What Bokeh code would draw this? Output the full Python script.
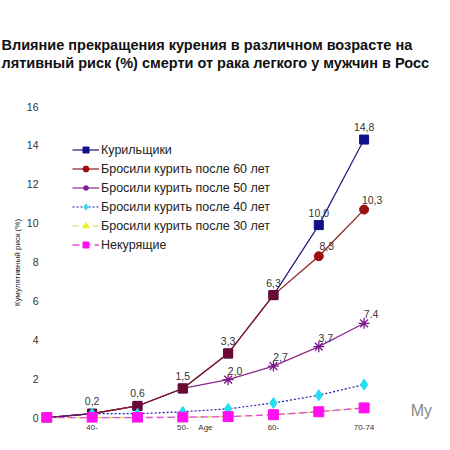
from bokeh.plotting import figure
from bokeh.models import (ColumnDataSource, Legend, LegendItem, Label, Range1d,
                          FixedTicker, CDSView, BooleanFilter)
from bokeh.core.properties import value
from bokeh.embed import file_html
from bokeh.resources import INLINE

# ---- data ----
x_labels = ["", "40-", "", "50-", "", "60-", "", "70-74"]
x_title = "Age"
x_title_pos = 3.5
smokers = [0, 0.2, 0.6, 1.5, 3.3, 6.3, 9.9, 14.3]
quit60 = [0, 0.2, 0.6, 1.5, 3.3, 6.3, 8.3, 10.7]
quit50 = [0, 0.2, 0.6, 1.5, 1.95, 2.65, 3.65, 4.85]
quit40 = [0, 0.2, 0.2, 0.3, 0.45, 0.75, 1.15, 1.7]
quit30 = [0, 0, 0, 0.02, 0.05, 0.15, 0.3, 0.5]
nonsmokers = [0, 0, 0, 0.02, 0.05, 0.15, 0.3, 0.5]
smokers_text = ["", "0,2", "0,6", "1,5", "3,3", "6,3", "10,0", "14,8"]
quit60_text = ["", "", "", "", "", "", "8,3", "10,3"]
quit50_text = ["", "", "", "", "2,0", "2,7", "3,7", "7.4"]
series_names = ["Курильщики", "Бросили курить после 60 лет", "Бросили курить после 50 лет",
                "Бросили курить после 40 лет", "Бросили курить после 30 лет", "Некурящие"]
title1 = "Влияние прекращения курения в различном возрасте на"
title2 = "лятивный риск (%) смерти от рака легкого у мужчин в  Росс"
y_title = "Кумулятивный риск  (%)"
y_ticks = [0, 2, 4, 6, 8, 10, 12, 14, 16]
watermark = "My"

xs = list(range(len(x_labels)))
FONT = "Liberation Sans"

p = figure(width=434, height=434, output_backend="svg", toolbar_location=None,
           x_range=Range1d(-0.139, 8.553), y_range=Range1d(-0.252, 16.31),
           min_border_left=40, min_border_right=0, min_border_top=100, min_border_bottom=12,
           background_fill_color="white", border_fill_color="white")
p.outline_line_color = None
p.grid.visible = False

# title (two lines)
p.title.text = title1 + "\n" + title2
p.title.align = "left"
p.title.offset = -39
p.title.standoff = 58
p.title.text_font = FONT
p.title.text_font_size = "14.5px"
p.title.text_font_style = "bold"
p.title.text_color = "#111111"
p.title.text_line_height = 1.13

ticks_x = [i for i, t in enumerate(x_labels) if t] + [x_title_pos]
labels_x = {i: t for i, t in enumerate(x_labels) if t}
labels_x[x_title_pos] = x_title
p.xaxis.ticker = FixedTicker(ticks=ticks_x)
p.xaxis.major_label_overrides = labels_x
p.yaxis.ticker = FixedTicker(ticks=y_ticks)
for ax in (p.xaxis[0], p.yaxis[0]):
    ax.axis_line_color = None
    ax.major_tick_line_color = None
    ax.minor_tick_line_color = None
    ax.major_tick_out = 0
    ax.major_tick_in = 0
    ax.major_label_text_font = FONT
    ax.major_label_text_color = "#333333"
p.xaxis.major_label_text_font_size = "8px"
p.xaxis.major_label_standoff = 0
p.yaxis.major_label_text_font_size = "10.5px"
p.yaxis.major_label_standoff = 2
p.yaxis.axis_label = y_title
p.yaxis.axis_label_text_font = FONT
p.yaxis.axis_label_text_font_size = "8px"
p.yaxis.axis_label_text_font_style = "normal"
p.yaxis.axis_label_text_color = "#222222"
p.yaxis.axis_label_standoff = 2

# smokers
s_src = ColumnDataSource(dict(x=xs, y=smokers, t=smokers_text))
l0 = p.line("x", "y", source=s_src, line_color="#1a1a80", line_width=1.2)
m0 = p.scatter("x", "y", source=s_src, marker="square", size=9, fill_color="#10108a",
               line_color="#10108a")

# quit at 50
src50 = ColumnDataSource(dict(x=xs, y=quit50, t=quit50_text))
div50 = [a != b for a, b in zip(quit50, smokers)]
l2 = p.line("x", "y", source=src50, line_color="#8a2a8a", line_width=1.2)
m2 = p.scatter("x", "y", source=src50, view=CDSView(filter=BooleanFilter(div50)),
               marker="asterisk", size=11, line_color="#7a1a8a", line_width=1.3)

# quit at 60
src60 = ColumnDataSource(dict(x=xs, y=quit60, t=quit60_text))
div60 = [a != b for a, b in zip(quit60, smokers)]
same60 = [not d for d in div60]
l1 = p.line("x", "y", source=src60, line_color="#8b1a1a", line_width=1.2)
p.scatter("x", "y", source=src60, view=CDSView(filter=BooleanFilter(same60)),
          marker="square", size=9, fill_color="#6b0a30", line_color="#6b0a30")
m1 = p.scatter("x", "y", source=src60, view=CDSView(filter=BooleanFilter(div60)),
               marker="circle", size=9, fill_color="#9b1010", line_color="#9b1010")

# quit at 40
src40 = ColumnDataSource(dict(x=xs, y=quit40))
l3 = p.line("x", "y", source=src40, line_color="#1a1aa0", line_width=1.2, line_dash="2 2")
m3 = p.scatter("x", "y", source=src40, marker="diamond", size=11, fill_color="#22e0f0",
               line_color="#22e0f0")

# quit at 30
src30 = ColumnDataSource(dict(x=xs, y=quit30))
l4 = p.line("x", "y", source=src30, line_color="#d8d840", line_width=1.2, line_dash="6 4")
m4 = p.scatter("x", "y", source=src30, marker="triangle", size=9, fill_color="#f0f020",
               line_color="#f0f020")

# non-smokers
srcn = ColumnDataSource(dict(x=xs, y=nonsmokers))
l5 = p.line("x", "y", source=srcn, line_color="#e050d8", line_width=1.4, line_dash="7 4")
m5 = p.scatter("x", "y", source=srcn, marker="square", size=10, fill_color="#ff10f0",
               line_color="#ff10f0")

items = []
for name, rs in zip(series_names, [[l0, m0], [l1, m1], [l2, m2], [l3, m3], [l4, m4], [l5, m5]]):
    items.append(LegendItem(label=name, renderers=rs))

# data labels
lbl = dict(text="t", text_font=value(FONT), text_font_size="10.5px", text_color="#333333",
           text_align="center", text_baseline="middle")
p.text("x", "y", source=s_src, y_offset=-12.5, **lbl)
p.text("x", "y", source=src60, x_offset=8, y_offset=-10, **lbl)
p.text("x", "y", source=src50, x_offset=7, y_offset=-9, **lbl)

legend = Legend(items=items, location=(32, 168), border_line_color=None,
                background_fill_alpha=0, padding=0, margin=0, spacing=0,
                label_height=19, glyph_height=15, glyph_width=27, label_standoff=2,
                label_text_font=FONT, label_text_font_size="12.5px", label_text_color="#222222")
p.add_layout(legend, "center")

p.add_layout(Label(x=8.03, y=0.365, text=watermark, text_font=FONT, text_font_size="16px",
                   text_color="#8a8a8a", text_baseline="middle"))

open("out.html", "w").write(file_html(p, INLINE))
